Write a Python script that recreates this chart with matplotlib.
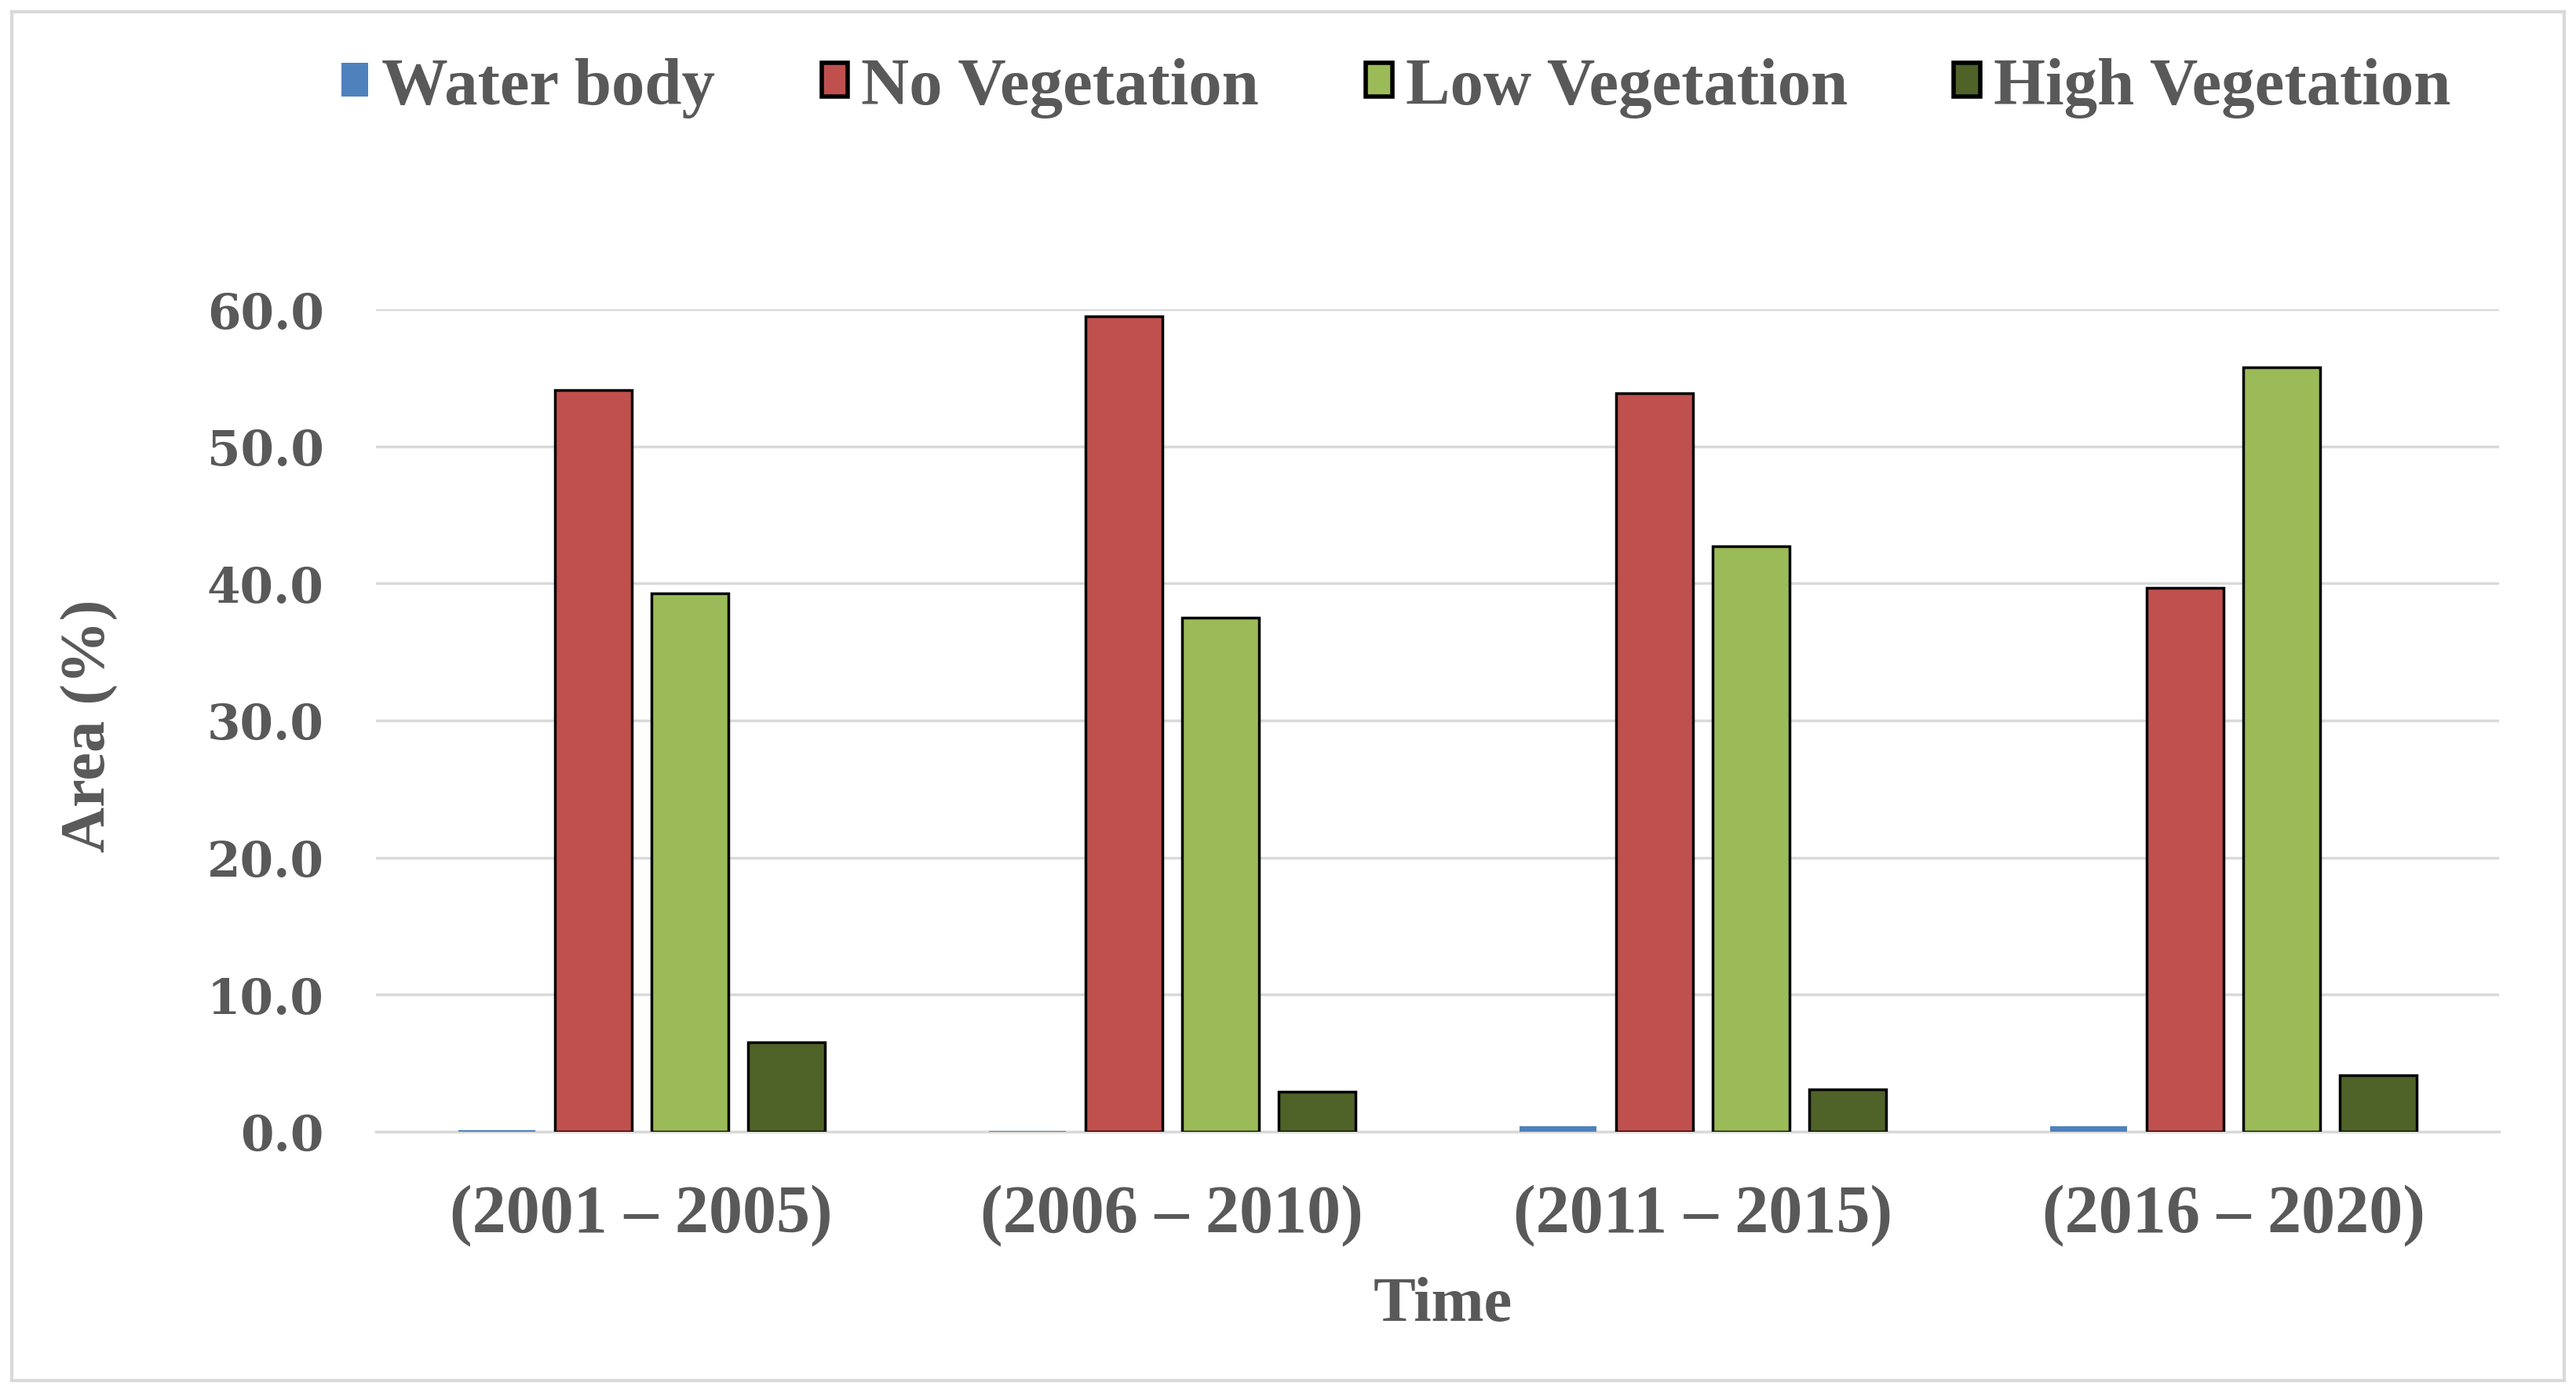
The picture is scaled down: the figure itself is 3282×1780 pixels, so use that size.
import matplotlib.pyplot as plt
import numpy as np
from matplotlib.patches import Rectangle

periods = ['(2001 – 2005)', '(2006 – 2010)', '(2011 – 2015)', '(2016 – 2020)']
water_body = [0.1, 0.05, 0.4, 0.4]
no_veg = [54.1, 59.5, 53.9, 39.7]
low_veg = [39.3, 37.5, 42.7, 55.8]
high_veg = [6.5, 2.9, 3.1, 4.1]

series_names = ['Water body', 'No Vegetation', 'Low Vegetation', 'High Vegetation']
series_colors = ['#4F81BD', '#C0504D', '#9BBB59', '#4F6228']

TXT = '#595959'
GRID = '#D9D9D9'


def main():
    fig = plt.figure(figsize=(32.82, 17.81), dpi=100)
    ax = fig.add_axes([0.146, 0.190, 0.824, 0.588])

    x = np.arange(len(periods))
    width = 0.145
    step = 0.182
    offsets = [-1.5 * step, -0.5 * step, 0.5 * step, 1.5 * step]
    data = [water_body, no_veg, low_veg, high_veg]
    for i in range(4):
        if i == 0:
            ax.bar(x + offsets[i], data[i], width, color=series_colors[i],
                   label=series_names[i], zorder=3)
        else:
            ax.bar(x + offsets[i], data[i], width, color=series_colors[i],
                   edgecolor='black', linewidth=2.5, label=series_names[i], zorder=3)

    ax.set_xlim(-0.5, 3.5)
    ax.set_ylim(0, 60)
    ax.set_yticks(np.arange(0, 61, 10))
    ax.set_yticklabels(['%.1f' % v for v in np.arange(0, 61, 10)],
                       family='DejaVu Serif', fontweight='bold', fontsize=44, color=TXT)
    ax.set_xticks(x)
    ax.set_xticklabels(periods, family='Liberation Serif', fontweight='bold',
                       fontsize=62, color=TXT)
    ax.tick_params(axis='both', length=0)
    ax.tick_params(axis='y', pad=48)
    ax.tick_params(axis='x', pad=48)
    ax.grid(axis='y', color=GRID, linewidth=2.5, zorder=0)
    for s in ['top', 'right', 'left']:
        ax.spines[s].set_visible(False)
    ax.spines['bottom'].set_color(GRID)
    ax.spines['bottom'].set_linewidth(2.5)

    fig.text(0.56, 0.066, 'Time', ha='center', va='center', family='Liberation Serif',
             fontweight='bold', fontsize=58, color=TXT)
    fig.text(0.035, 0.481, 'Area (%)', ha='center', va='center', rotation=90,
             family='Liberation Serif', fontweight='bold', fontsize=58, color=TXT)

    leg = fig.legend(loc='center', bbox_to_anchor=(0.542, 0.937), ncol=4, frameon=False,
                     prop={'family': 'Liberation Serif', 'weight': 'bold', 'size': 61},
                     handlelength=0.4, handleheight=0.4, handletextpad=0.2,
                     columnspacing=1.6)
    for t in leg.get_texts():
        t.set_color(TXT)
    for h in leg.legend_handles[1:]:
        h.set_linewidth(4)

    fig.patches.append(Rectangle((0.0045, 0.012), 0.991, 0.979, transform=fig.transFigure,
                                 fill=False, edgecolor=GRID, linewidth=3))

    plt.savefig('out.png', dpi=100)


if __name__ == '__main__':
    main()
